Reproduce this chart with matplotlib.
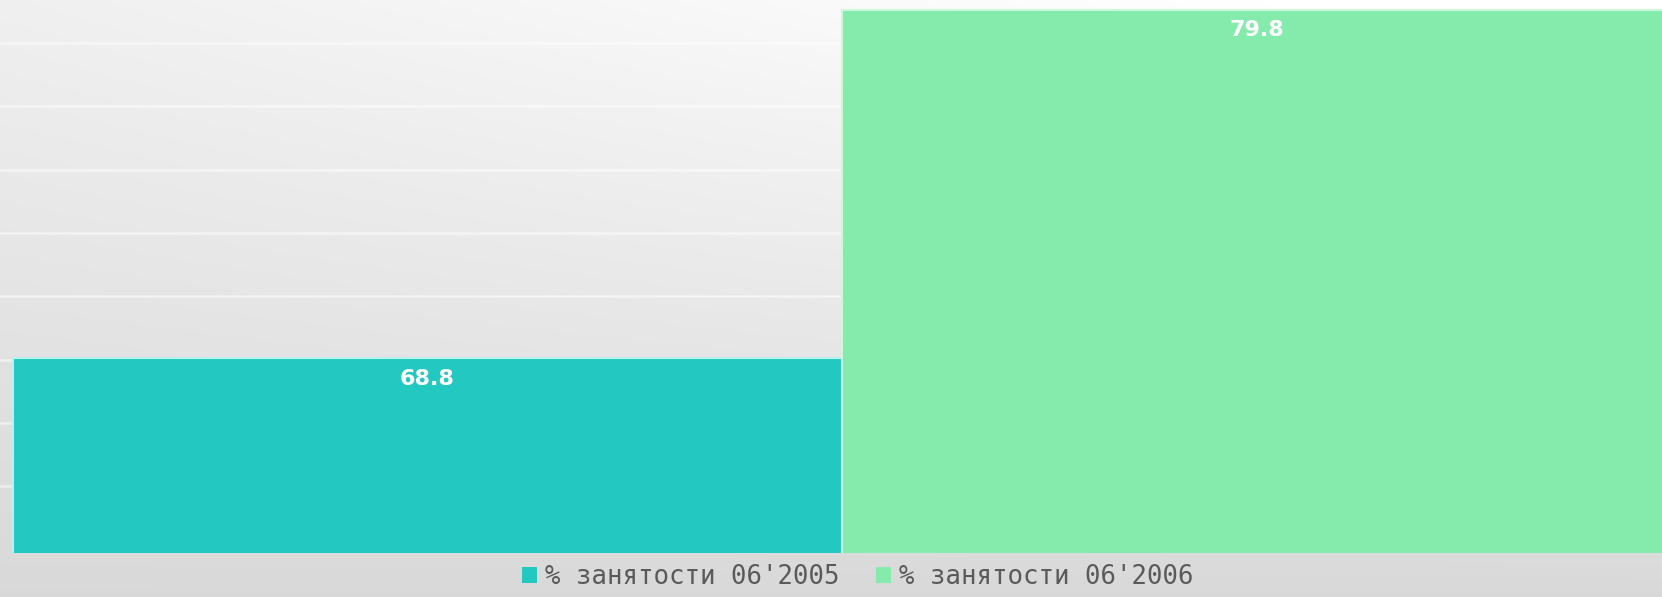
import matplotlib
matplotlib.use('Agg')
import matplotlib.pyplot as plt
import numpy as np
from matplotlib.patches import Patch

# data
labels = ["% занятости 06'2005", "% занятости 06'2006"]
values = [68.8, 79.8]
colors = ['#23c9c1', '#84ebac']
edges = ['#b8f2ee', '#cbf7da']

fig = plt.figure(figsize=(16.62, 5.97), dpi=100)

# gradient background over the whole figure
bg = fig.add_axes([0, 0, 1, 1])
xx, yy = np.meshgrid(np.linspace(0, 1, 400), np.linspace(0, 1, 200))
shade = np.clip(0.85 + 0.09 * (1 - yy) + 0.08 * (1 - yy) * xx, 0, 1)
bg.imshow(np.dstack([shade] * 3), aspect='auto', extent=[0, 1, 0, 1], origin='upper')
bg.axis('off')

ax = fig.add_axes([0, 0.0737, 1, 0.9263])
ax.patch.set_alpha(0)

# faint white grid lines
for g in np.arange(64.75, 80, 2):
    ax.axhline(g, color='white', lw=1.8, alpha=0.5, zorder=1)

x = np.arange(len(values))
bars = ax.bar(x, values, width=1.0, color=colors, edgecolor=edges, linewidth=1.5, zorder=2)
for xi, v in zip(x, values):
    ax.text(xi, v - 0.65, f'{v:.1f}', ha='center', va='center', color='white',
            fontsize=16, fontweight='bold', zorder=3)

ax.set_ylim(62.65, 80.1)
ax.set_xlim(-0.5157, 1.489)
ax.axis('off')

handles = [Patch(facecolor=c, edgecolor='none') for c in colors]
fig.legend(handles, labels, loc='center', bbox_to_anchor=(0.516, 0.033), ncol=2,
           frameon=False, prop={'family': 'DejaVu Sans Mono', 'size': 18.5},
           labelcolor='#5a5a5a', handlelength=0.6, handleheight=0.6,
           handletextpad=0.3, columnspacing=1.4)

plt.savefig('out.png', dpi=100)
